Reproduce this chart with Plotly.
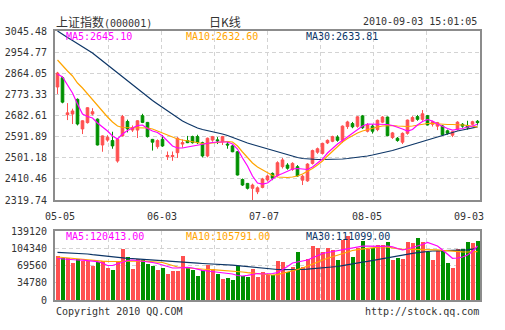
import plotly.graph_objects as go

# Daily K-line of the SSE Composite (000001), 2010-05-05 .. 2010-09-03
opens = [2805, 2845, 2686, 2689, 2752, 2625, 2652, 2689, 2667, 2556,
         2577, 2575, 2487, 2595, 2657, 2620, 2620, 2682, 2653, 2580,
         2549, 2580, 2506, 2506, 2523, 2560, 2575, 2592, 2592, 2566,
         2509, 2577, 2578, 2570, 2560, 2552, 2527, 2408, 2391, 2370,
         2355, 2374, 2406, 2434, 2425, 2463, 2470, 2451, 2463, 2405,
         2402, 2477, 2525, 2520, 2565, 2572, 2590, 2576, 2635, 2648,
         2636, 2681, 2615, 2637, 2622, 2654, 2676, 2588, 2585, 2568,
         2606, 2658, 2678, 2666, 2682, 2645, 2637, 2638, 2617, 2598,
         2623, 2645, 2640, 2645, 2658]
highs = [2870, 2850, 2736, 2712, 2756, 2662, 2718, 2714, 2670, 2597,
         2598, 2613, 2583, 2685, 2665, 2640, 2662, 2690, 2655, 2582,
         2580, 2599, 2528, 2528, 2590, 2580, 2595, 2596, 2600, 2570,
         2588, 2595, 2590, 2595, 2570, 2556, 2530, 2412, 2393, 2390,
         2378, 2415, 2428, 2438, 2486, 2500, 2478, 2482, 2470, 2428,
         2478, 2536, 2545, 2566, 2580, 2596, 2598, 2640, 2660, 2655,
         2680, 2685, 2650, 2645, 2665, 2680, 2678, 2612, 2590, 2610,
         2665, 2680, 2685, 2706, 2685, 2660, 2655, 2642, 2622, 2615,
         2658, 2650, 2660, 2660, 2663]
lows = [2775, 2735, 2663, 2646, 2640, 2603, 2648, 2683, 2554, 2527,
        2570, 2540, 2480, 2592, 2610, 2612, 2586, 2650, 2588, 2532,
        2540, 2548, 2492, 2488, 2500, 2545, 2564, 2562, 2560, 2503,
        2503, 2570, 2560, 2556, 2540, 2525, 2425, 2380, 2365, 2319.74,
        2345, 2370, 2400, 2405, 2420, 2455, 2450, 2445, 2420, 2384,
        2398, 2472, 2518, 2515, 2560, 2568, 2570, 2565, 2625, 2628,
        2630, 2625, 2610, 2605, 2615, 2650, 2594, 2582, 2570, 2560,
        2600, 2655, 2660, 2660, 2640, 2635, 2620, 2598, 2600, 2590,
        2618, 2630, 2622, 2640, 2640]
closes = [2865, 2740, 2694, 2702, 2646, 2660, 2716, 2699, 2556, 2595,
          2589, 2552, 2580, 2678, 2625, 2631, 2660, 2653, 2592, 2568,
          2575, 2552, 2511, 2511, 2585, 2566, 2566, 2566, 2566, 2509,
          2585, 2592, 2574, 2592, 2556, 2527, 2427, 2384, 2370, 2384,
          2372, 2410, 2423, 2413, 2480, 2492, 2456, 2477, 2423, 2422,
          2474, 2532, 2540, 2563, 2576, 2592, 2576, 2637, 2655, 2634,
          2677, 2630, 2642, 2615, 2662, 2676, 2596, 2608, 2575, 2606,
          2663, 2674, 2666, 2690, 2642, 2656, 2652, 2600, 2606, 2613,
          2654, 2637, 2630, 2656, 2652]
volumes = [88000, 85000, 84000, 75000, 82000, 79000, 78000, 69000, 76000, 79000,
           65000, 60000, 77000, 103000, 86000, 62000, 82000, 80000, 73000, 68000,
           60500, 65000, 52000, 59000, 58000, 88700, 67000, 60000, 49000, 61000,
           70000, 62000, 53000, 43000, 45000, 40000, 68000, 48000, 46000, 63000,
           45700, 57000, 50400, 50400, 79300, 77300, 57100, 65900, 97400, 65900,
           82700, 108900, 105500, 96100, 105500, 100800, 80600, 121000, 129700, 87400,
           105500, 119600, 102100, 104100, 110900, 110900, 116300, 80600, 85400, 82700,
           117600, 114200, 124300, 117600, 97400, 80600, 98800, 100800, 75300, 65200,
           102100, 102100, 116300, 114200, 119000]

# moving averages of the close
ma5 = [2860.8, 2847.9, 2813.6, 2779.2, 2732.0, 2689.1, 2678.3, 2671.9, 2650.4, 2633.2,
       2616.1, 2594.6, 2581.7, 2603.2, 2618.2, 2628.9, 2639.7, 2641.8, 2626.8, 2616.1,
       2609.6, 2594.6, 2573.1, 2551.6, 2543.0, 2543.0, 2547.3, 2551.6, 2555.9, 2560.2,
       2564.5, 2566.7, 2568.8, 2568.8, 2568.8, 2560.2, 2538.8, 2500.1, 2465.8, 2422.8,
       2392.7, 2388.4, 2392.7, 2409.9, 2425.0, 2433.5, 2444.3, 2452.9, 2455.0, 2452.9,
       2450.7, 2461.5, 2478.6, 2495.8, 2521.6, 2543.0, 2560.2, 2575.3, 2590.3, 2607.5,
       2622.5, 2637.5, 2646.1, 2646.1, 2646.1, 2646.1, 2644.0, 2639.7, 2633.2, 2624.6,
       2616.1, 2622.5, 2641.8, 2656.8, 2665.4, 2659.0, 2646.1, 2635.4, 2626.8, 2620.3,
       2622.5, 2626.8, 2633.2, 2637.5, 2645.10]
ma10 = [2920.9, 2895.2, 2873.7, 2852.2, 2822.2, 2800.7, 2774.9, 2753.5, 2723.4, 2701.9,
        2676.2, 2654.7, 2637.5, 2631.1, 2631.1, 2631.1, 2631.1, 2631.1, 2628.9, 2624.6,
        2616.1, 2607.5, 2598.9, 2588.1, 2581.7, 2577.4, 2573.1, 2568.8, 2564.5, 2562.4,
        2562.4, 2564.5, 2566.7, 2568.8, 2571.0, 2568.8, 2551.6, 2525.9, 2500.1, 2478.6,
        2461.5, 2448.6, 2435.7, 2425.0, 2418.5, 2416.4, 2416.4, 2418.5, 2422.8, 2431.4,
        2442.1, 2455.0, 2470.0, 2487.2, 2508.7, 2530.2, 2551.6, 2568.8, 2583.8, 2596.7,
        2607.5, 2616.1, 2622.5, 2628.9, 2633.2, 2637.5, 2639.7, 2639.7, 2637.5, 2635.4,
        2635.4, 2637.5, 2641.8, 2646.1, 2648.3, 2648.3, 2646.1, 2644.0, 2644.0, 2644.0,
        2644.0, 2641.8, 2639.7, 2637.5, 2632.60]
ma30 = [3045.48, 3030.5, 3017.6, 3004.7, 2991.8, 2978.9, 2966.0, 2951.0, 2933.8, 2916.6,
        2899.5, 2882.3, 2865.1, 2847.9, 2830.8, 2813.6, 2796.4, 2779.3, 2762.1, 2747.1,
        2732.0, 2717.0, 2702.0, 2687.0, 2671.9, 2659.0, 2648.3, 2637.6, 2629.0, 2622.5,
        2618.2, 2613.9, 2609.6, 2603.2, 2596.7, 2588.1, 2579.5, 2571.0, 2564.5, 2558.1,
        2551.7, 2545.2, 2538.8, 2532.3, 2525.9, 2519.4, 2513.0, 2506.6, 2502.3, 2498.0,
        2495.8, 2493.7, 2493.7, 2493.7, 2493.7, 2493.7, 2493.7, 2495.8, 2498.0, 2500.1,
        2502.3, 2504.4, 2508.7, 2513.0, 2517.3, 2521.6, 2525.9, 2532.3, 2538.8, 2545.2,
        2551.7, 2558.1, 2564.5, 2573.1, 2579.5, 2586.0, 2592.4, 2598.9, 2605.3, 2611.8,
        2616.1, 2620.3, 2624.6, 2628.9, 2633.81]

# moving averages of the volume
vol_ma5 = [83672, 82664, 82059, 81454, 80648, 80245, 79438, 78632, 77422, 74599,
           69559, 69559, 72583, 76616, 79640, 80648, 79640, 78632, 77220, 75608,
           73591, 70567, 67543, 64518, 64518, 65527, 65930, 64518, 61897, 59881,
           58470, 57462, 56454, 55042, 54034, 52421, 49397, 48389, 49800, 51413,
           53429, 52421, 52421, 53429, 55042, 60486, 67543, 74599, 77220, 78632,
           80648, 84680, 89721, 93753, 95770, 97786, 98794, 100810, 103229, 105246,
           106859, 108472, 108472, 107867, 107465, 108070, 108875, 107262, 103834, 100810,
           102826, 105851, 107867, 111899, 115932, 112907, 108875, 100810, 91737, 84076,
           84680, 86697, 90729, 97786, 108875]
vol_ma10 = [86697, 85689, 84680, 83672, 82261, 81454, 80648, 79842, 79035, 78430,
            77825, 77422, 77220, 77624, 78229, 78632, 78632, 78229, 77825, 77422,
            77019, 75608, 72583, 69559, 66535, 65527, 64518, 63510, 62704, 62099,
            61494, 61091, 60486, 59680, 58873, 58067, 57260, 56454, 55244, 54034,
            53228, 52421, 51010, 50405, 51211, 53429, 56454, 58873, 61494, 64518,
            68551, 73591, 77220, 80648, 84076, 87301, 90729, 94358, 97786, 99802,
            101415, 103229, 104238, 105246, 106455, 107465, 106455, 104842, 103229, 102221,
            102221, 102221, 102221, 102221, 102221, 102221, 101213, 100205, 99197, 98391,
            97786, 97181, 96778, 96979, 97383]
vol_ma30 = [96173, 95770, 95366, 94761, 94358, 93753, 92745, 91334, 90124, 88914,
            87705, 86697, 85689, 84680, 84076, 83269, 82463, 81858, 81051, 80245,
            79438, 78833, 78027, 77220, 76414, 75809, 75204, 74599, 74196, 73591,
            73188, 72583, 72180, 71575, 70970, 70164, 69156, 68148, 66938, 65728,
            64518, 63510, 62502, 61897, 61494, 61091, 60889, 60889, 61091, 61494,
            62099, 62905, 63712, 64518, 65325, 66131, 67543, 69357, 71373, 73390,
            75003, 76414, 77825, 79640, 81656, 83672, 85689, 87705, 89721, 91334,
            92745, 94157, 95366, 96778, 97987, 98794, 99197, 99399, 99600, 99802,
            100205, 100608, 101213, 102423, 103834]

price_ticks = [2319.74, 2410.46, 2501.18, 2591.89, 2682.61, 2773.33, 2864.05, 2954.77, 3045.48]
volume_ticks = [0, 34780, 69560, 104340, 139120]
date_labels = ["05-05", "06-03", "07-07", "08-05", "09-03"]
date_label_pos = [0.4, 20.9, 41.3, 61.8, 82.3]
ma_legend = ["MA5:2645.10", "MA10:2632.60", "MA30:2633.81"]
vol_legend = ["MA5:120413.00", "MA10:105791.00", "MA30:111099.00"]

RED = "#ff5050"
GREEN = "#009000"
C_MA5 = "#ff00ff"
C_MA10 = "#ffa500"
C_MA30 = "#0c3566"
GRID = "#d3d3d3"
FRAME = "#8c8c8c"
TXT = "#333333"
MONO = "DejaVu Sans Mono, Liberation Mono, monospace"
CJK = "Noto Sans CJK SC, sans-serif"
FS = 10

n = len(closes)
idx = list(range(n))
vol_colors = [RED if c >= o else GREEN for o, c in zip(opens, closes)]

fig = go.Figure()
fig.add_trace(go.Candlestick(
    x=idx, open=opens, high=highs, low=lows, close=closes,
    increasing=dict(line=dict(color=RED, width=1), fillcolor=RED),
    decreasing=dict(line=dict(color=GREEN, width=1), fillcolor=GREEN),
    whiskerwidth=0, xaxis="x", yaxis="y", hoverinfo="skip", showlegend=False))
for ys, col in ((ma30, C_MA30), (ma10, C_MA10), (ma5, C_MA5)):
    fig.add_trace(go.Scatter(x=idx, y=ys, mode="lines", line=dict(color=col, width=1.2),
                             xaxis="x", yaxis="y", hoverinfo="skip", showlegend=False))

fig.add_trace(go.Bar(x=idx, y=volumes, marker=dict(color=vol_colors, line=dict(width=0)),
                     width=0.8, xaxis="x2", yaxis="y2", hoverinfo="skip", showlegend=False))
for ys, col in ((vol_ma30, C_MA30), (vol_ma10, C_MA10), (vol_ma5, C_MA5)):
    fig.add_trace(go.Scatter(x=idx, y=ys, mode="lines", line=dict(color=col, width=1.2),
                             xaxis="x2", yaxis="y2", hoverinfo="skip", showlegend=False))

xcommon = dict(range=[-0.5, n - 0.5], tick0=-0.5, dtick=n / 8, showticklabels=False,
               showgrid=True, gridcolor=GRID, griddash="4px,3px", gridwidth=1,
               showline=True, mirror=True, linecolor=FRAME, linewidth=2,
               zeroline=False, ticks="", fixedrange=True, automargin=False)
ycommon = dict(showgrid=True, gridcolor=GRID, griddash="4px,3px", gridwidth=1,
               showline=True, mirror=True, linecolor=FRAME, linewidth=2,
               zeroline=False, ticks="", ticklabelstandoff=4, automargin=False,
               tickfont=dict(family=MONO, size=FS, color=TXT), fixedrange=True)

fig.update_layout(
    template="none",
    width=505, height=330,
    margin=dict(l=55, r=25, t=31, b=30, autoexpand=False),
    paper_bgcolor="white", plot_bgcolor="white",
    font=dict(family=MONO, size=FS, color=TXT),
    boxgap=0.25,
    bargap=0,
    showlegend=False,
    xaxis=dict(domain=[0, 1], anchor="y", rangeslider=dict(visible=False), **xcommon),
    yaxis=dict(domain=[0.3717, 1], anchor="x", range=[price_ticks[0], price_ticks[-1]],
               tickvals=price_ticks, ticktext=[f"{v:.2f}" for v in price_ticks], **ycommon),
    xaxis2=dict(domain=[0, 1], anchor="y2", matches="x", **xcommon),
    yaxis2=dict(domain=[0, 0.2565], anchor="x2", range=[volume_ticks[0], volume_ticks[-1]],
                tickvals=volume_ticks, ticktext=[str(v) for v in volume_ticks], **ycommon),
)


def mono(color=TXT, size=FS):
    return dict(family=MONO, size=size, color=color)


def note(x, y, text, font, xanchor="left", xref="paper"):
    return dict(x=x, y=y, xref=xref, yref="paper", xanchor=xanchor, yanchor="middle",
                text=text, font=font, showarrow=False, borderpad=0)


ann = [
    note(0, 1.0353, "上证指数<span style='font-family:DejaVu Sans Mono;font-size:10px'>(000001)</span>",
         dict(family=CJK, size=12, color=TXT)),
    note(0.4, 1.0353, "日K线", dict(family=CJK, size=12, color=TXT), "center"),
    note(0.9953, 1.0353, "2010-09-03 15:01:05", mono(), "right"),
]
for xp, txt, col in zip((0.0235, 0.3059, 0.5882), ma_legend, (C_MA5, C_MA10, C_MA30)):
    ann.append(note(xp, 0.9796, txt, mono(col)))
for xp, txt, col in zip((0.0235, 0.3059, 0.5882), vol_legend, (C_MA5, C_MA10, C_MA30)):
    ann.append(note(xp, 0.2361, txt, mono(col)))
for pos, lab in zip(date_label_pos, date_labels):
    ann.append(note(pos, 0.3104, lab, mono(), "center", xref="x"))
ann.append(note(0, -0.0428, "Copyright 2010 QQ.COM", mono()))
ann.append(note(1, -0.0428, "http://stock.qq.com", mono(), "right"))
fig.update_layout(annotations=ann)

fig.write_html("out.html")
